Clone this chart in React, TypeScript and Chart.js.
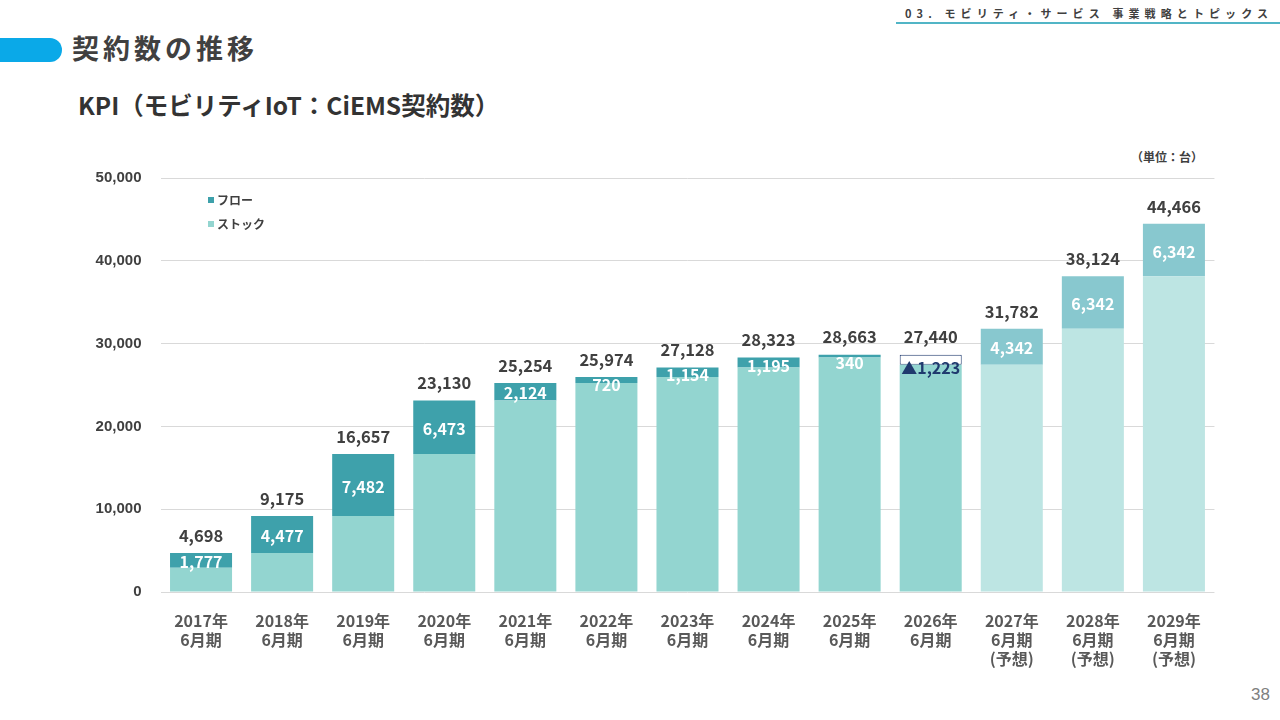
import { useEffect, useRef } from "react";
import { Chart, registerables } from "chart.js";

Chart.register(...registerables);

const categories: string[][] = [
  ["2017年", "6月期"],
  ["2018年", "6月期"],
  ["2019年", "6月期"],
  ["2020年", "6月期"],
  ["2021年", "6月期"],
  ["2022年", "6月期"],
  ["2023年", "6月期"],
  ["2024年", "6月期"],
  ["2025年", "6月期"],
  ["2026年", "6月期"],
  ["2027年", "6月期", "(予想)"],
  ["2028年", "6月期", "(予想)"],
  ["2029年", "6月期", "(予想)"],
];

const stockValues = [2921, 4698, 9175, 16657, 23130, 25254, 25974, 27128, 28323, 27440, 27440, 31782, 38124];
const flowValues = [1777, 4477, 7482, 6473, 2124, 720, 1154, 1195, 340, 1223, 4342, 6342, 6342];
const flowIsDecrease = [false, false, false, false, false, false, false, false, false, true, false, false, false];
const totalValues = [4698, 9175, 16657, 23130, 25254, 25974, 27128, 28323, 28663, 27440, 31782, 38124, 44466];
const isForecast = [false, false, false, false, false, false, false, false, false, false, true, true, true];

const yMin = 0;
const yMax = 50000;
const yStep = 10000;

const FLOW = "#3EA1AB";
const STOCK = "#93D5D0";
const FLOW_F = "#88C8CF";
const STOCK_F = "#BDE5E3";
const NAVY = "#1F3A6E";
const CJK = '"Noto Sans CJK JP", "Noto Sans", sans-serif';

const fmt = (v: number) => v.toLocaleString("en-US");

const labelPlugin = {
  id: "barLabels",
  afterDatasetsDraw(chart: any) {
    const ctx = chart.ctx as CanvasRenderingContext2D;
    const flowMeta = chart.getDatasetMeta(1);
    const stockMeta = chart.getDatasetMeta(0);
    ctx.save();
    ctx.textAlign = "center";
    ctx.textBaseline = "middle";
    flowMeta.data.forEach((bar: any, i: number) => {
      const p = bar.getProps(["x", "y", "base"], true);
      const top = Math.min(p.y, p.base);
      const bottom = Math.max(p.y, p.base);
      const sp = stockMeta.data[i].getProps(["y"], true);
      const stackTop = Math.min(top, sp.y);
      let ly: number;
      if (flowIsDecrease[i]) {
        ly = bottom + 3.5;
        ctx.fillStyle = NAVY;
      } else {
        ly = Math.max((top + bottom) / 2 + 1.5, top + 8);
        ctx.fillStyle = "#ffffff";
      }
      ctx.font = `bold 16px ${CJK}`;
      ctx.fillText((flowIsDecrease[i] ? "▲" : "") + fmt(flowValues[i]), p.x, ly);
      ctx.fillStyle = "#404040";
      ctx.font = `bold 16.5px ${CJK}`;
      ctx.fillText(fmt(totalValues[i]), p.x, stackTop - 17.5);
    });

    // legend inside plot area
    const area = chart.chartArea;
    const lx = area.left + 47.5;
    const ly0 = area.top + 22;
    const items = [
      { label: chart.data.datasets[1].label, color: FLOW },
      { label: chart.data.datasets[0].label, color: STOCK },
    ];
    ctx.textAlign = "left";
    ctx.font = `bold 12px ${CJK}`;
    items.forEach((it, k) => {
      const yy = ly0 + k * 24;
      ctx.fillStyle = it.color;
      ctx.fillRect(lx, yy - 3, 6, 6);
      ctx.fillStyle = "#404040";
      ctx.fillText(it.label, lx + 9, yy);
    });
    ctx.restore();
  },
};

function KpiChart() {
  const ref = useRef<HTMLCanvasElement | null>(null);
  useEffect(() => {
    if (!ref.current) return;
    const chart = new Chart(ref.current, {
      type: "bar",
      data: {
        labels: categories,
        datasets: [
          {
            label: "ストック",
            data: stockValues,
            backgroundColor: stockValues.map((_, i) => (isForecast[i] ? STOCK_F : STOCK)),
            borderWidth: 0,
            barPercentage: 0.765,
            categoryPercentage: 1,
          },
          {
            label: "フロー",
            data: flowValues,
            backgroundColor: flowValues.map((_, i) =>
              flowIsDecrease[i] ? "#ffffff" : isForecast[i] ? FLOW_F : FLOW
            ),
            borderColor: flowValues.map((_, i) => (flowIsDecrease[i] ? NAVY : "rgba(0,0,0,0)")),
            borderWidth: flowValues.map((_, i) => (flowIsDecrease[i] ? 1 : 0)),
            borderSkipped: false,
            barPercentage: 0.765,
            categoryPercentage: 1,
          },
        ],
      },
      options: {
        animation: false,
        responsive: true,
        maintainAspectRatio: false,
        layout: { padding: { top: 28, right: 5, left: 0, bottom: 0 } },
        plugins: {
          legend: { display: false },
          tooltip: { enabled: false },
        },
        scales: {
          x: {
            stacked: true,
            grid: { display: false, drawTicks: false },
            border: { display: false },
            ticks: {
              padding: 19,
              maxRotation: 0,
              autoSkip: false,
              color: "#595959",
              font: { family: CJK, size: 16, weight: "bold", lineHeight: 1.2 },
            },
            afterFit: (s: any) => {
              s.height = 88;
            },
          },
          y: {
            stacked: true,
            min: yMin,
            max: yMax,
            grid: { color: "#d9d9d9", lineWidth: 1, drawTicks: false },
            border: { display: false },
            ticks: {
              stepSize: yStep,
              padding: 19,
              color: "#404040",
              font: { family: '"Liberation Sans", Arial, sans-serif', size: 15, weight: "bold" },
              callback: (v: any) => fmt(Number(v)),
            },
            afterFit: (s: any) => {
              s.width = 100.5;
            },
          },
        },
      },
      plugins: [labelPlugin],
    });
    return () => chart.destroy();
  }, []);
  return <canvas ref={ref} />;
}

export default function App() {
  return (
    <div
      style={{
        position: "absolute",
        left: 0,
        top: 0,
        width: 1280,
        height: 720,
        background: "#ffffff",
        overflow: "hidden",
        fontFamily: CJK,
        color: "#404040",
      }}
    >
      <div
        style={{
          position: "absolute",
          left: 905,
          top: 7.5,
          fontSize: 11,
          lineHeight: "11px",
          fontWeight: 700,
          letterSpacing: "5.1px",
          whiteSpace: "nowrap",
          color: "#404040",
        }}
      >
        03. モビリティ・サービス 事業戦略とトピックス
      </div>
      <div
        style={{ position: "absolute", left: 896, right: 0, top: 22, height: 2, background: "#51B5C6" }}
      />
      <div
        style={{
          position: "absolute",
          left: 0,
          top: 38,
          width: 62,
          height: 24,
          borderRadius: "0 12px 12px 0",
          background: "#0AA9E8",
        }}
      />
      <div
        style={{
          position: "absolute",
          left: 72,
          top: 33.5,
          fontSize: 27,
          lineHeight: "27px",
          fontWeight: 700,
          letterSpacing: "4px",
          whiteSpace: "nowrap",
          color: "#404040",
        }}
      >
        契約数の推移
      </div>
      <div
        style={{
          position: "absolute",
          left: 78,
          top: 92.5,
          fontSize: 24.5,
          lineHeight: "24.5px",
          fontWeight: 700,
          whiteSpace: "nowrap",
          color: "#333333",
        }}
      >
        KPI（モビリティIoT：CiEMS契約数）
      </div>
      <div
        style={{
          position: "absolute",
          left: 1131,
          top: 150.5,
          fontSize: 12,
          lineHeight: "12px",
          fontWeight: 700,
          whiteSpace: "nowrap",
          color: "#404040",
        }}
      >
        （単位：台）
      </div>
      <div style={{ position: "absolute", left: 60, top: 150, width: 1160, height: 530 }}>
        <KpiChart />
      </div>
      <div
        style={{
          position: "absolute",
          left: 1251,
          top: 685,
          fontSize: 17,
          lineHeight: "20px",
          fontFamily: '"Liberation Sans", Arial, sans-serif',
          color: "#808080",
        }}
      >
        38
      </div>
    </div>
  );
}
